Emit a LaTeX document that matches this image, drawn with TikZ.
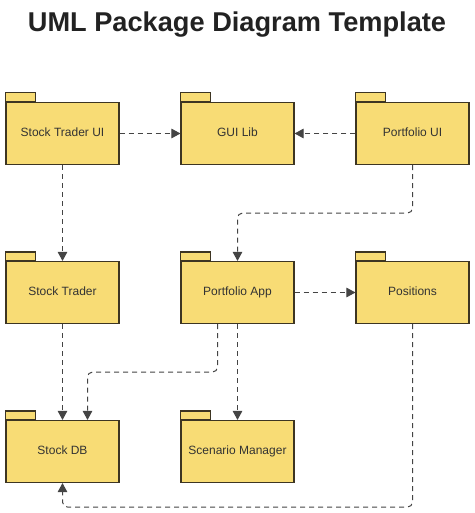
\documentclass[tikz,border=0pt]{standalone}
\usepackage{fontspec}
\setmainfont{Liberation Sans}
\usetikzlibrary{arrows.meta}
\definecolor{pkgfill}{HTML}{F8DC75}
\definecolor{pkgline}{HTML}{3D3522}
\definecolor{conn}{HTML}{444444}
\definecolor{txt}{HTML}{333333}
\definecolor{ttl}{HTML}{222222}
\tikzset{
  pkg/.style={draw=pkgline, fill=pkgfill, line width=1.1pt, minimum width=113pt, minimum height=62pt, inner sep=0pt, text height=8.5pt, text depth=2.5pt, text=txt, font=\fontsize{12}{14}\selectfont},
  pkgtab/.style={draw=pkgline, fill=pkgfill, line width=1.1pt},
  dep/.style={draw=conn, line width=1pt, dash pattern=on 5pt off 4pt, rounded corners=5pt, -{Triangle[width=9.5pt,length=9pt]}},
}
\begin{document}
\begin{tikzpicture}[x=1pt,y=-1pt]
\useasboundingbox (0,0) rectangle (474,513);
\node[font=\bfseries\fontsize{27.2}{30}\selectfont, text=ttl, anchor=base] (title) at (237,32) {UML Package Diagram Template};
\node[pkg] (stui) at (62.5,133.5) {Stock Trader UI};
\node[pkg] (gui) at (237.5,133.5) {GUI Lib};
\node[pkg] (pui) at (412.5,133.5) {Portfolio UI};
\node[pkg] (st) at (62.5,292.5) {Stock Trader};
\node[pkg] (pa) at (237.5,292.5) {Portfolio App};
\node[pkg] (pos) at (412.5,292.5) {Positions};
\node[pkg] (sdb) at (62.5,451.5) {Stock DB};
\node[pkg] (sm) at (237.5,451.5) {Scenario Manager};
\foreach \n in {stui,gui,pui,st,pa,pos,sdb,sm}
  \draw[pkgtab] (\n.north west) rectangle ++(30,-9);
\draw[dep] (stui) -- (gui);
\draw[dep] (pui) -- (gui);
\draw[dep] (stui) -- (st);
\draw[dep] (pui.south) -- ++(0,48) -| (pa.north);
\draw[dep] (pa) -- (pos);
\draw[dep] (st) -- (sdb);
\draw[dep] ([xshift=-20pt]pa.south) -- ++(0,48) -| ([xshift=25pt]sdb.north);
\draw[dep] (pa) -- (sm);
\draw[dep] (pos.south) -- ++(0,183) -| (sdb.south);
\end{tikzpicture}
\end{document}
